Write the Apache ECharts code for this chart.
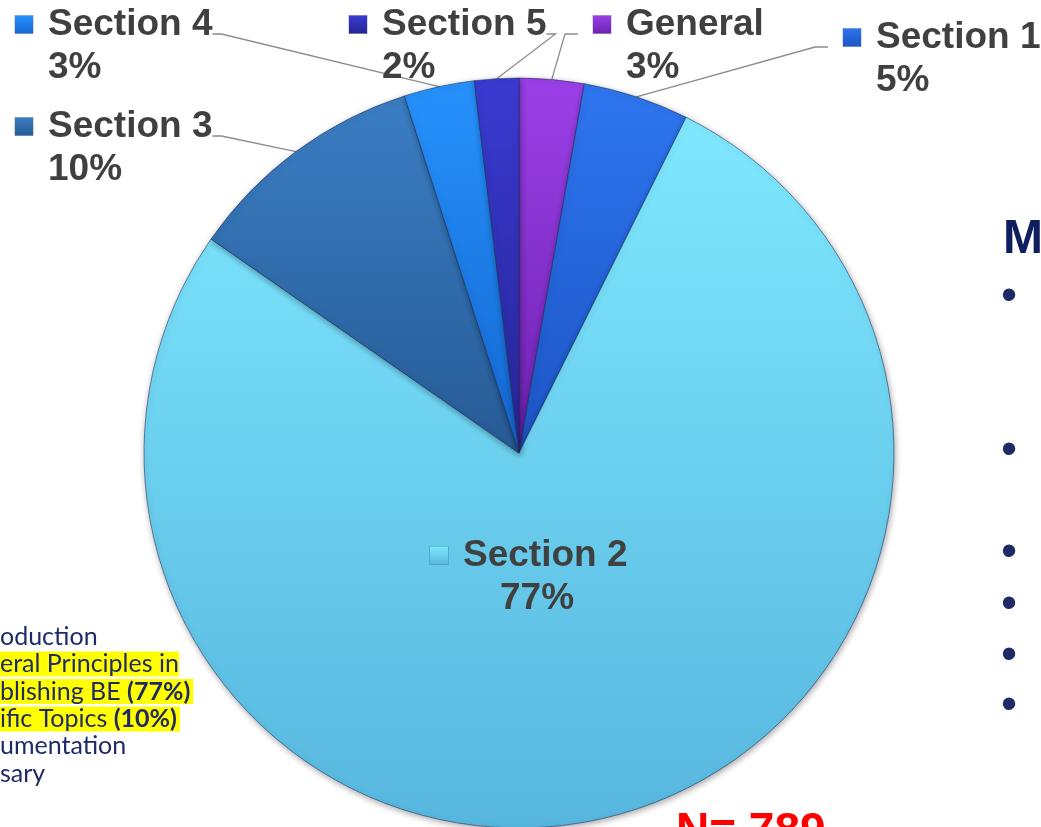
<!DOCTYPE html>
<html><head><meta charset="utf-8">
<script src="https://cdn.jsdelivr.net/npm/echarts@6/dist/echarts.min.js"></script>
<style>html,body{margin:0;padding:0;background:#fff;overflow:hidden}#c{width:1041px;height:827px}</style>
</head><body><div id="c"></div>
<script>
// ---- data ----
const categories = ['General', 'Section 1', 'Section 2', 'Section 3', 'Section 4', 'Section 5'];
const counts = [22, 36, 610, 82, 24, 15];
const sampleLabel = 'N= 789';
const headingText = 'M';
const noteLines = [
  [['n', 'oduction']],
  [['h', 'eral Principles in']],
  [['h', 'blishing BE '], ['hb', '(77%)']],
  [['h', 'ific Topics '], ['hb', '(10%)']],
  [['n', 'umentation']],
  [['n', 'sary']]
];
const bulletCount = 6;

// ---- styles / layout ----
const sliceColors = [
  ['#9C40E8', '#6C21B0'],
  ['#2E76F0', '#1C54C4'],
  ['#7FE8FF', '#57B6DE'],
  ['#3B7EC4', '#265A94'],
  ['#2692FC', '#1466D0'],
  ['#3A3AD2', '#252596']
];
// label box top-left, side of leader line
const labelBoxes = [
  [593, 3, 'R'],
  [843, 16, 'R'],
  [430, 534, 'C'],
  [15, 105, 'L'],
  [15, 3, 'L'],
  [349, 3, 'L']
];
const bulletY = [294, 448, 550, 602, 653, 703];

const FONT = '"Liberation Sans", Arial, sans-serif';
const LABEL_SIZE = 37;
function grad(c) {
  return { type: 'linear', x: 0, y: 0, x2: 0, y2: 1, colorStops: [{ offset: 0, color: c[0] }, { offset: 1, color: c[1] }] };
}
const measureCtx = document.createElement('canvas').getContext('2d');
function textWidth(s) {
  measureCtx.font = 'bold ' + LABEL_SIZE + 'px ' + FONT;
  return measureCtx.measureText(s).width;
}

const rich = {
  nm: { fontSize: LABEL_SIZE, fontWeight: 'bold', color: '#404040', fontFamily: FONT, lineHeight: 43, padding: [0, 0, 0, 15] },
  pc: { fontSize: LABEL_SIZE, fontWeight: 'bold', color: '#404040', fontFamily: FONT, lineHeight: 43 },
  sp: { width: 33 },
  sp2: { width: 70 }
};
sliceColors.forEach((c, i) => {
  rich['ic' + i] = { width: 18, height: 18, backgroundColor: grad([c[0], c[1]]), borderColor: 'rgba(0,0,0,0.25)', borderWidth: 0.6 };
});

const chart = echarts.init(document.getElementById('c'), null, { renderer: 'canvas' });

const graphics = [];
graphics.push({
  type: 'text', x: 1003, y: 216,
  style: { text: headingText, font: 'bold 48px ' + FONT, fill: '#0D1F5E' }
});
for (let i = 0; i < bulletCount; i++) {
  graphics.push({
    type: 'text', x: 1009, y: bulletY[i] + 3,
    style: { text: '\u2022', font: '46px ' + FONT, fill: '#1F2A66', align: 'center', verticalAlign: 'middle' }
  });
}
const NOTE_FONT = 'Lato, "Open Sans", sans-serif';
const noteRich = {
  n: { fontSize: 25, fill: '#1F2A66', fontFamily: NOTE_FONT, lineHeight: 27.4 },
  h: { fontSize: 25, fill: '#1F2A66', fontFamily: NOTE_FONT, lineHeight: 27.4, backgroundColor: '#FFFF00' },
  hb: { fontSize: 25, fontWeight: 'bold', fill: '#1F2A66', fontFamily: NOTE_FONT, lineHeight: 27.4, backgroundColor: '#FFFF00', padding: [0, 3, 0, 0] }
};
graphics.push({
  type: 'text', x: 0, y: 623,
  style: {
    text: noteLines.map(line => line.map(t => '{' + t[0] + '|' + t[1] + '}').join('')).join('\n'),
    rich: noteRich
  }
});
graphics.push({
  type: 'text', x: 676, y: 809,
  style: { text: sampleLabel, font: 'bold 46px ' + FONT, fill: '#FF0000' }
});

chart.setOption({
  animation: false,
  backgroundColor: '#ffffff',
  graphic: graphics,
  series: [{
    type: 'pie',
    center: [519, 453],
    radius: 375,
    startAngle: 90,
    clockwise: true,
    percentPrecision: 0,
    avoidLabelOverlap: false,
    itemStyle: {
      borderColor: 'rgba(25,45,90,0.55)',
      borderWidth: 1,
      shadowBlur: 6,
      shadowColor: 'rgba(0,0,0,0.35)',
      shadowOffsetX: 1,
      shadowOffsetY: 2
    },
    label: {
      show: true,
      position: 'outside',
      formatter: p => '{ic' + p.dataIndex + '|}{nm|' + p.name + '}\n{' + (p.dataIndex === 2 ? 'sp2' : 'sp') + '|}{pc|' + p.percent + '%}',
      rich: rich
    },
    labelLine: { show: true, lineStyle: { color: '#8C8C8C', width: 1.3 } },
    labelLayout: function (params) {
      const i = params.dataIndex;
      const b = labelBoxes[i];
      const x = b[0], y = b[1];
      const w = 18 + 15 + textWidth(categories[i]);
      const res = { x: x, y: y, align: 'left', verticalAlign: 'top' };
      const rim = params.labelLinePoints ? params.labelLinePoints[0] : null;
      if (rim && b[2] === 'L') {
        res.labelLinePoints = [rim, [x + w + 9, y + 31], [x + w, y + 31]];
      } else if (rim && b[2] === 'R') {
        res.labelLinePoints = [rim, [x - 28, y + 31], [x - 15, y + 31]];
      }
      return res;
    },
    data: categories.map((name, i) => ({
      name: name,
      value: counts[i],
      itemStyle: { color: grad(sliceColors[i]) },
      labelLine: { show: i !== 2 }
    }))
  }]
});
</script>
</body></html>
